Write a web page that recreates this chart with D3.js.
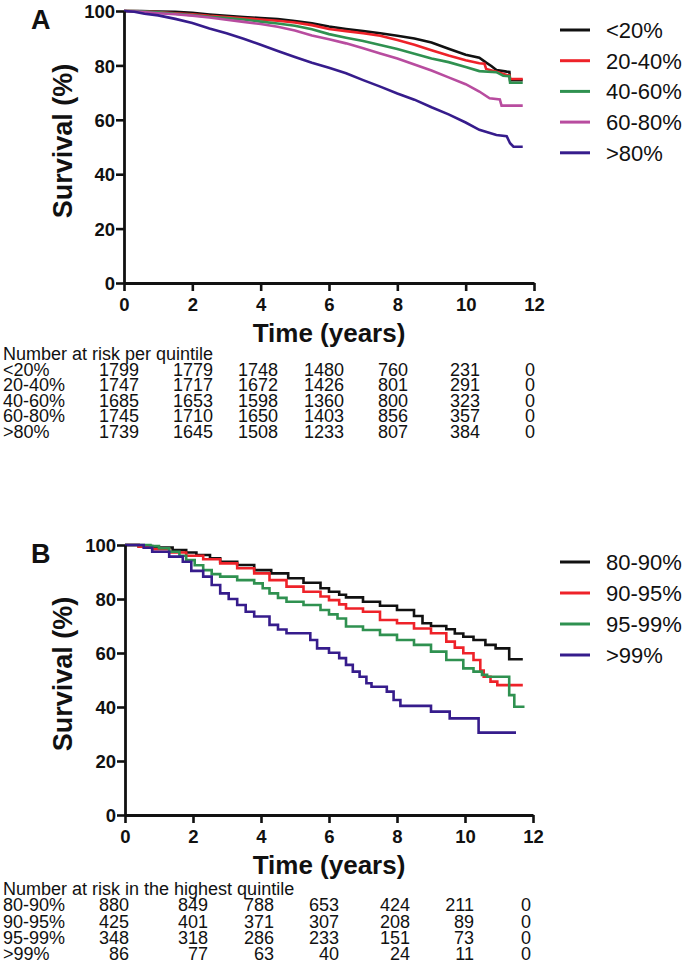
<!DOCTYPE html>
<html>
<head>
<meta charset="utf-8">
<script src="https://cdn.jsdelivr.net/npm/d3@7"></script>
<style>
  body { margin: 0; background: #fff; }
  svg text { font-family: "Liberation Sans", Arial, sans-serif; fill: #111; }
</style>
</head>
<body>
<div id="chart"></div>
<script>
// ---- data ----
var xTicks = [0, 2, 4, 6, 8, 10, 12];
var yTicks = [0, 20, 40, 60, 80, 100];

// Panel A: survival by quintile, [years, %]
var groupsA = ["<20%", "20-40%", "40-60%", "60-80%", ">80%"];
var survA_q1 = [[0,100],[0.5,100],[1,99.8],[1.5,99.7],[2,99.3],[2.5,98.7],[3,98.2],[3.5,97.8],[4,97.4],[4.5,97.0],[5,96.3],[5.5,95.5],[6,94.3],[6.5,93.4],[7,92.6],[7.5,91.8],[8,90.9],[8.5,89.9],[9,88.4],[9.5,86.1],[10,83.9],[10.4,82.8],[10.6,81.0],[10.75,79.8],[10.9,78.3],[11.2,77.7],[11.28,77.6],[11.3,74.6],[11.67,74.6]];
var survA_q2 = [[0,100],[0.5,99.9],[1,99.6],[1.5,99.2],[2,98.8],[2.5,98.2],[3,97.8],[3.5,97.3],[4,96.9],[4.5,96.4],[5,95.8],[5.5,94.8],[6,93.4],[6.5,92.6],[7,91.8],[7.5,90.9],[8,89.3],[8.5,87.6],[9,85.6],[9.5,83.6],[10,81.9],[10.4,80.8],[10.55,80.6],[10.6,78.7],[10.9,77.7],[11.2,76.5],[11.28,76.4],[11.3,75.0],[11.67,75.0]];
var survA_q3 = [[0,100],[0.5,99.9],[1,99.5],[1.5,99.0],[2,98.5],[2.5,97.9],[3,97.4],[3.5,96.9],[4,96.1],[4.5,95.4],[5,94.6],[5.5,93.3],[6,91.5],[6.5,90.2],[7,89.0],[7.5,87.5],[8,86.0],[8.5,84.3],[9,82.5],[9.5,81.2],[10,79.4],[10.4,77.9],[10.9,77.5],[11.1,76.2],[11.28,76.0],[11.3,73.6],[11.67,73.6]];
var survA_q4 = [[0,100],[0.5,99.7],[1,99.2],[1.5,98.8],[2,98.3],[2.5,97.6],[3,96.8],[3.5,96.0],[4,95.2],[4.5,94.2],[5,92.8],[5.5,91.0],[6,89.6],[6.5,88.1],[7,86.3],[7.5,84.4],[8,82.5],[8.5,80.3],[9,78.1],[9.5,75.6],[10,73.1],[10.4,70.4],[10.7,67.9],[11.0,67.5],[11.05,65.2],[11.67,65.2]];
var survA_q5 = [[0,100],[0.3,99.7],[0.6,99.0],[1,98.4],[1.5,97.1],[2,95.6],[2.5,93.6],[3,91.8],[3.5,89.8],[4,87.6],[4.5,85.3],[5,83.1],[5.5,81.0],[6,79.1],[6.5,77.1],[7,74.6],[7.5,72.2],[8,69.7],[8.5,67.4],[9,64.6],[9.5,62.0],[10,59.0],[10.4,56.3],[10.9,54.4],[11.2,54.0],[11.3,51.4],[11.4,50.1],[11.67,50.1]];
var riskA = [
  [1799, 1779, 1748, 1480, 760, 231, 0],
  [1747, 1717, 1672, 1426, 801, 291, 0],
  [1685, 1653, 1598, 1360, 800, 323, 0],
  [1745, 1710, 1650, 1403, 856, 357, 0],
  [1739, 1645, 1508, 1233, 807, 384, 0]
];

// Panel B: survival within the highest quintile, step events [years, %]
var groupsB = ["80-90%", "90-95%", "95-99%", ">99%"];
var survB_g1 = [[0,100],[0.4,99.6],[0.8,99.1],[1.4,98.1],[1.8,97.2],[2.1,96.3],[2.5,95.1],[2.8,93.8],[3.3,92.6],[3.8,90.7],[4.3,89.5],[4.8,87.7],[5.25,86.0],[5.75,84.0],[6.0,82.7],[6.3,81.6],[6.5,80.6],[7.0,79.0],[7.5,77.5],[8.0,75.9],[8.5,73.7],[8.75,71.0],[9.0,70.0],[9.45,68.8],[9.7,67.2],[9.95,66.0],[10.25,64.8],[10.6,63.0],[10.9,61.7],[11.3,57.7],[11.7,57.7]];
var survB_g2 = [[0,100],[0.4,99.4],[0.8,98.4],[1.3,97.2],[1.8,96.0],[2.3,94.7],[2.8,93.2],[3.3,91.4],[3.8,89.5],[4.25,87.0],[4.75,84.6],[5.25,82.7],[5.75,80.9],[6.0,79.6],[6.3,78.0],[6.5,76.5],[7.0,75.3],[7.5,72.2],[8.0,71.0],[8.5,69.1],[9.0,67.3],[9.45,64.2],[9.7,62.0],[9.95,59.9],[10.25,57.4],[10.45,53.5],[10.55,51.2],[10.75,49.4],[10.95,48.1],[11.7,48.1]];
var survB_g3 = [[0,100],[0.75,99.6],[1.0,98.8],[1.3,97.5],[1.6,96.0],[1.8,94.4],[2.05,92.5],[2.3,90.7],[2.55,89.2],[2.8,88.3],[3.3,87.0],[3.8,85.8],[4.05,84.0],[4.25,82.1],[4.5,80.4],[4.75,79.0],[5.25,77.8],[5.75,75.9],[6.0,74.3],[6.25,72.8],[6.5,69.8],[7.0,68.5],[7.5,66.7],[8.0,64.8],[8.5,63.0],[9.0,60.5],[9.45,57.4],[9.95,54.3],[10.25,53.1],[10.5,51.9],[10.65,51.2],[11.3,44.4],[11.45,40.1],[11.75,40.1]];
var survB_g4 = [[0,100],[0.55,99.0],[0.8,97.5],[1.3,95.7],[1.7,93.8],[1.95,90.4],[2.3,88.3],[2.55,85.2],[2.8,82.1],[3.05,80.0],[3.3,77.8],[3.55,75.3],[3.8,73.5],[4.25,70.4],[4.5,68.7],[4.75,67.3],[5.45,64.8],[5.65,61.7],[6.0,60.1],[6.3,58.1],[6.5,55.6],[6.7,53.1],[6.9,51.2],[7.1,48.8],[7.25,47.5],[7.7,45.7],[7.9,42.6],[8.1,40.4],[9.0,38.3],[9.55,35.8],[10.4,30.5],[11.5,30.5]];
var riskB = [
  [880, 849, 788, 653, 424, 211, 0],
  [425, 401, 371, 307, 208, 89, 0],
  [348, 318, 286, 233, 151, 73, 0],
  [86, 77, 63, 40, 24, 11, 0]
];

// ---- styles ----
var colorsA = ["#111111", "#ee2229", "#2f9150", "#b84c9f", "#361c8c"];
var colorsB = ["#111111", "#ee2229", "#2f9150", "#361c8c"];

var svg = d3.select("#chart").append("svg")
  .attr("width", 685)
  .attr("height", 971);

function tableText(g, x, y, str, anchor) {
  g.append("text")
    .attr("x", x)
    .attr("y", y)
    .attr("text-anchor", anchor)
    .attr("font-size", 18)
    .text(str);
}

function drawPanel(p) {
  var x = d3.scaleLinear().domain([0, 12]).range(p.xRange);
  var y = d3.scaleLinear().domain([0, 100]).range(p.yRange);
  var g = svg.append("g");

  // curves first, axes on top
  var line = d3.line()
    .x(d => x(d[0]))
    .y(d => y(d[1]))
    .curve(p.curve);

  g.selectAll("path.curve")
    .data(p.series)
    .enter()
    .append("path")
    .attr("class", "curve")
    .attr("d", line)
    .attr("fill", "none")
    .attr("stroke", (d, i) => p.colors[i])
    .attr("stroke-width", 2.6);

  var yAxis = g.append("g")
    .attr("transform", `translate(${p.xRange[0]},0)`)
    .call(d3.axisLeft(y).tickValues(yTicks).tickSize(8).tickSizeOuter(0).tickPadding(1));
  var xAxis = g.append("g")
    .attr("transform", `translate(0,${p.yRange[0]})`)
    .call(d3.axisBottom(x).tickValues(xTicks).tickSize(8).tickSizeOuter(0).tickPadding(7));

  [xAxis, yAxis].forEach(function (a) {
    a.select(".domain").attr("stroke", "#111").attr("stroke-width", 2.8);
    a.selectAll(".tick line").attr("stroke", "#111").attr("stroke-width", 2.6);
    a.selectAll(".tick text")
      .attr("font-size", 18.5)
      .attr("font-weight", "bold")
      .attr("fill", "#111");
  });
  yAxis.selectAll(".tick text").attr("dy", "0.36em");

  // panel letter
  g.append("text")
    .attr("x", 31)
    .attr("y", p.yRange[1] + 18)
    .attr("font-size", 27)
    .attr("font-weight", "bold")
    .text(p.letter);

  // axis titles
  g.append("text")
    .attr("transform", `translate(72,${(p.yRange[0] + p.yRange[1]) / 2 - 6}) rotate(-90)`)
    .attr("text-anchor", "middle")
    .attr("font-size", 27)
    .attr("font-weight", "bold")
    .text("Survival (%)");

  g.append("text")
    .attr("x", (p.xRange[0] + p.xRange[1]) / 2)
    .attr("y", p.yRange[0] + 59)
    .attr("text-anchor", "middle")
    .attr("font-size", 26)
    .attr("font-weight", "bold")
    .text("Time (years)");

  // legend
  var leg = g.selectAll("g.leg")
    .data(p.groups)
    .enter()
    .append("g")
    .attr("transform", (d, i) => `translate(0,${p.legendTop + i * p.legendStep})`);
  leg.append("line")
    .attr("x1", 560).attr("x2", 590)
    .attr("stroke", (d, i) => p.colors[i])
    .attr("stroke-width", 3);
  leg.append("text")
    .attr("x", 606)
    .attr("y", 8)
    .attr("font-size", 22)
    .text(d => d);

  // number at risk table
  var tTop = p.yRange[0] + p.tableOffset;
  tableText(g, 3, tTop, p.tableTitle, "start");

  p.groups.forEach(function (grp, i) {
    var ry = tTop + (i + 1) * p.rowStep;
    tableText(g, 3, ry, grp, "start");
    p.risk[i].forEach(function (n, j) {
      tableText(g, p.colX[j], ry, n, "end");
    });
  });
}

drawPanel({
  letter: "A",
  xRange: [124, 534],
  yRange: [283, 11],
  curve: d3.curveLinear,
  series: [survA_q1, survA_q2, survA_q3, survA_q4, survA_q5],
  colors: colorsA,
  groups: groupsA,
  legendTop: 30,
  legendStep: 30.7,
  tableTitle: "Number at risk per quintile",
  tableOffset: 77,
  rowStep: 15.6,
  risk: riskA,
  colX: [139, 213, 278, 344, 408, 480, 535]
});

drawPanel({
  letter: "B",
  xRange: [125, 533],
  yRange: [815, 545],
  curve: d3.curveStepAfter,
  series: [survB_g1, survB_g2, survB_g3, survB_g4],
  colors: colorsB,
  groups: groupsB,
  legendTop: 562,
  legendStep: 31,
  tableTitle: "Number at risk in the highest quintile",
  tableOffset: 80,
  rowStep: 16.3,
  risk: riskB,
  colX: [129, 208, 274, 339, 410, 474, 531]
});
</script>
</body>
</html>
